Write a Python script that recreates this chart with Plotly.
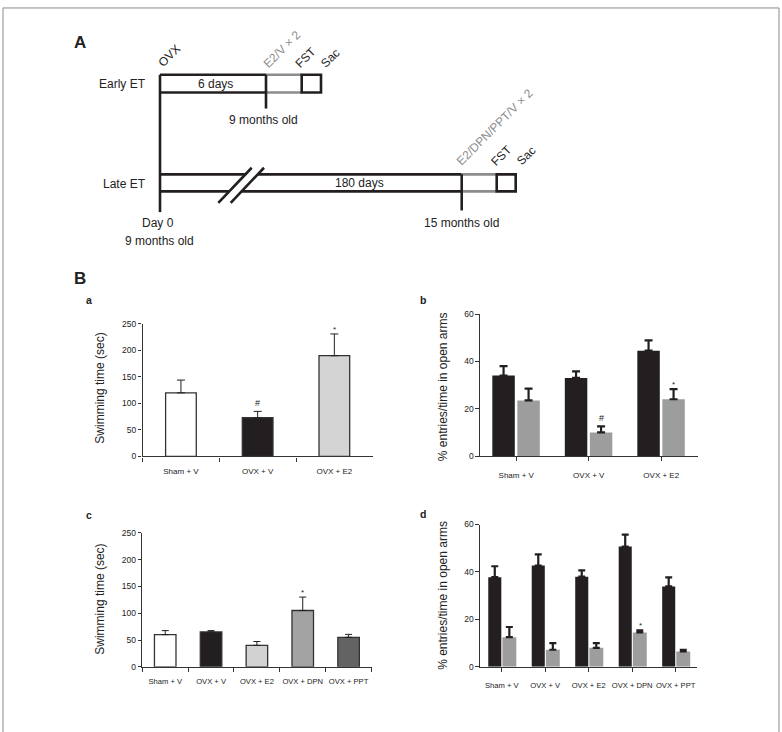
import plotly.graph_objects as go

W, H = 782, 732
FONT = "Liberation Sans, Arial, sans-serif"
BLK = "#231f20"

# ---------------- data ----------------
groups3 = ["Sham + V", "OVX + V", "OVX + E2"]
groups5 = ["Sham + V", "OVX + V", "OVX + E2", "OVX + DPN", "OVX + PPT"]

# panel a: swimming time (early ET)
swim_a = [120, 73, 190]
swim_a_err = [24, 12, 41]
swim_a_marks = ["", "#", "*"]
swim_a_colors = ["#ffffff", BLK, "#d4d4d4"]

# panel b: % entries / time in open arms (early ET)
entries_b = [34, 33, 44.5]
entries_b_err = [4, 2.8, 4.4]
time_b = [23.5, 10, 24]
time_b_err = [5, 2.5, 4.3]
time_b_marks = ["", "#", "*"]

# panel c: swimming time (late ET)
swim_c = [60, 65, 40, 105, 55]
swim_c_err = [7.5, 2.5, 7.2, 25, 5.5]
swim_c_marks = ["", "", "", "*", ""]
swim_c_colors = ["#ffffff", BLK, "#d2d2d2", "#a3a3a3", "#636363"]

# panel d: % entries / time in open arms (late ET)
entries_d = [37.8, 42.7, 38.0, 50.7, 33.9]
entries_d_err = [4.6, 4.7, 2.7, 5.0, 3.8]
time_d = [12.5, 7.2, 8.0, 14.5, 6.5]
time_d_err = [4.3, 2.8, 2.0, 0.9, 0.7]
time_d_marks = ["", "", "", "*", ""]

# ---------------- helpers ----------------
def X(px):
    return px / W

def Y(py):
    return 1 - py / H

fig = go.Figure()

def err(vals, thick, width):
    return dict(type="data", symmetric=False, array=vals,
                arrayminus=[0] * len(vals), color=BLK,
                thickness=thick, width=width)

# panel a
fig.add_trace(go.Bar(x=groups3, y=swim_a, width=0.4,
                     marker=dict(color=swim_a_colors, line=dict(color="#333333", width=1.3)),
                     error_y=err(swim_a_err, 1, 4), xaxis="x", yaxis="y",
                     showlegend=False))
# panel b
fig.add_trace(go.Bar(x=groups3, y=entries_b, width=0.31, offset=-0.33,
                     marker=dict(color=BLK, line=dict(width=0)),
                     error_y=err(entries_b_err, 2.2, 4), xaxis="x2", yaxis="y2",
                     showlegend=False))
fig.add_trace(go.Bar(x=groups3, y=time_b, width=0.31, offset=0.015,
                     marker=dict(color="#9d9d9d", line=dict(width=0)),
                     error_y=err(time_b_err, 2.2, 4), xaxis="x2", yaxis="y2",
                     showlegend=False))
# panel c
fig.add_trace(go.Bar(x=groups5, y=swim_c, width=0.47,
                     marker=dict(color=swim_c_colors, line=dict(color="#333333", width=1.3)),
                     error_y=err(swim_c_err, 1, 3.5), xaxis="x3", yaxis="y3",
                     showlegend=False))
# panel d
fig.add_trace(go.Bar(x=groups5, y=entries_d, width=0.3, offset=-0.31,
                     marker=dict(color=BLK, line=dict(width=0)),
                     error_y=err(entries_d_err, 2.2, 3.5), xaxis="x4", yaxis="y4",
                     showlegend=False))
fig.add_trace(go.Bar(x=groups5, y=time_d, width=0.32, offset=0.015,
                     marker=dict(color="#9d9d9d", line=dict(width=0)),
                     error_y=err(time_d_err, 2.2, 3.5), xaxis="x4", yaxis="y4",
                     showlegend=False))

tickfont = dict(family=FONT, size=8.5, color="#222")

def xax(dom, boundaries, fs):
    return dict(domain=dom, showline=True, linecolor="#333", linewidth=1.3,
                ticks="outside", ticklen=4, tickcolor="#333", tickwidth=1.2,
                tickson="boundaries" if boundaries else "labels", tickangle=0,
                ticklabelstandoff=7,
                tickfont=dict(family=FONT, size=fs, color="#222"),
                showgrid=False, zeroline=False, fixedrange=True)

def yax(dom, rng, dtick, anchor):
    return dict(domain=dom, range=rng, dtick=dtick, showline=True, linecolor="#333",
                linewidth=1.3, ticks="outside", ticklen=3.5, tickcolor="#333",
                tickwidth=1.2, tickfont=tickfont, showgrid=False, zeroline=False,
                anchor=anchor, fixedrange=True)

fig.update_layout(
    width=W, height=H, margin=dict(l=0, r=0, t=0, b=0),
    paper_bgcolor="white", plot_bgcolor="rgba(0,0,0,0)",
    barmode="overlay",
    font=dict(family=FONT, color="#222"),
    xaxis=dict(xax([X(142.6), X(372.7)], True, 8), anchor="y"),
    yaxis=yax([Y(457.7), Y(323.3)], [0, 250], 50, "x"),
    xaxis2=dict(xax([X(480), X(697.5)], False, 8), anchor="y2"),
    yaxis2=yax([Y(457.3), Y(313.3)], [0, 60], 20, "x2"),
    xaxis3=dict(xax([X(142.3), X(371.5)], True, 7.6), anchor="y3"),
    yaxis3=yax([Y(671), Y(535)], [0, 250], 50, "x3"),
    xaxis4=dict(xax([X(480), X(697.4)], False, 7.6), anchor="y4"),
    yaxis4=yax([Y(671), Y(526.7)], [0, 60], 20, "x4"),
)

ann = []
shapes = []

def text(px, py, s, size=12, color="#222", bold=False, xanchor="center", angle=0):
    ann.append(dict(x=X(px), y=Y(py), xref="paper", yref="paper", showarrow=False,
                    text=("<b>%s</b>" % s) if bold else s, textangle=angle,
                    font=dict(family=FONT, size=size, color=color),
                    xanchor=xanchor, yanchor="middle"))

def line(x0, y0, x1, y1, color=BLK, w=2.6):
    shapes.append(dict(type="line", xref="paper", yref="paper", x0=X(x0), y0=Y(y0),
                       x1=X(x1), y1=Y(y1), line=dict(color=color, width=w)))

# border
shapes.append(dict(type="rect", xref="paper", yref="paper", x0=X(3), x1=X(779),
                   y0=Y(3), y1=Y(740), line=dict(color="#8a8a8a", width=1)))

# ---------------- panel A diagram ----------------
GRAY = "#8c8c8c"
# early ET
line(160, 70.7, 160, 210)
line(160, 70.7, 266, 70.7)
line(160, 88.7, 266, 88.7)
line(266, 70.7, 301.7, 70.7, GRAY)
line(266, 88.7, 301.7, 88.7, GRAY)
line(266, 70.7, 266, 105)
shapes.append(dict(type="rect", xref="paper", yref="paper", x0=X(301.7), x1=X(321),
                   y0=Y(70.7), y1=Y(88.7), line=dict(color=BLK, width=2.6)))
# late ET
line(160, 171.7, 461.7, 171.7)
line(160, 189, 461.7, 189)
line(461.7, 171.7, 496.7, 171.7, GRAY)
line(461.7, 189, 496.7, 189, GRAY)
line(461.7, 171.7, 461.7, 208.3)
shapes.append(dict(type="rect", xref="paper", yref="paper", x0=X(496.7), x1=X(515.7),
                   y0=Y(171.7), y1=Y(189), line=dict(color=BLK, width=2.6)))
# break
shapes.append(dict(type="path", xref="paper", yref="paper",
                   path="M %f %f L %f %f L %f %f L %f %f Z" % (
                       X(219.5), Y(199.5), X(252.5), Y(166), X(263), Y(166), X(230), Y(199.5)),
                   fillcolor="white", line=dict(width=0)))
line(218.3, 200.7, 251.7, 165)
line(230.7, 200.7, 264, 165)

text(80, 38, "A", size=17, bold=True)
text(148, 80.5, "Early ET", xanchor="right")
text(215, 80, "6 days")
text(263, 117, "9 months old")
text(148, 181, "Late ET", xanchor="right")
text(359, 180, "180 days")
text(158, 221, "Day 0")
text(159, 239, "9 months old")
text(461, 221, "15 months old")
text(169, 52, "OVX", angle=-45)
text(282.5, 45, "E2/V × 2", color=GRAY, angle=-45)
text(305, 53.3, "FST", angle=-45)
text(330.5, 53.8, "Sac", angle=-45)
text(495, 124, "E2/DPN/PPT/V × 2", color=GRAY, angle=-45)
text(501, 153, "FST", angle=-45)
text(526, 153, "Sac", angle=-45)

# ---------------- panel B labels ----------------
text(80, 277, "B", size=17, bold=True)
text(88.5, 299.5, "a", size=10.5, bold=True)
text(423, 299.5, "b", size=10.5, bold=True)
text(88.5, 517, "c", size=10.5, bold=True)
text(423, 516.5, "d", size=10.5, bold=True)
text(100, 389, "Swimming time (sec)", angle=-90)
text(443, 387.5, "% entries/time in open arms", angle=-90)
text(100, 603, "Swimming time (sec)", angle=-90)
text(443, 599, "% entries/time in open arms", angle=-90)

# significance marks
def marks(xa, ya, cats, tops, labels, xshift=0):
    for c, t, m in zip(cats, tops, labels):
        if not m:
            continue
        ann.append(dict(x=c, y=t, xref=xa, yref=ya, text=m, showarrow=False,
                        xanchor="center", yanchor="bottom", xshift=xshift,
                        yshift=1 if m == "#" else -2,
                        font=dict(family=FONT, size=9 if m == "#" else 8, color="#222")))

marks("x", "y", groups3, [v + e for v, e in zip(swim_a, swim_a_err)], swim_a_marks)
marks("x2", "y2", groups3, [v + e for v, e in zip(time_b, time_b_err)], time_b_marks, 12.5)
marks("x3", "y3", groups5, [v + e for v, e in zip(swim_c, swim_c_err)], swim_c_marks)
marks("x4", "y4", groups5, [v + e for v, e in zip(time_d, time_d_err)], time_d_marks, 8)

fig.update_layout(annotations=ann, shapes=shapes)
fig.write_html("out.html", config={"displayModeBar": False},
               post_script="document.body.style.margin='0';document.body.style.overflow='hidden';")
